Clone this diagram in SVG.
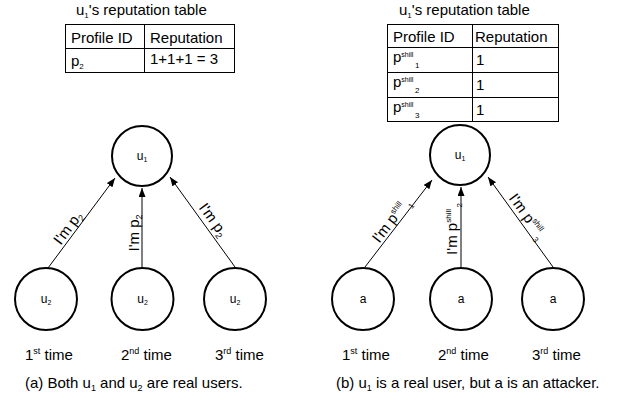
<svg xmlns="http://www.w3.org/2000/svg" width="624" height="401" viewBox="0 0 624 401">
  <defs>
    <style>
      text { font-family: "Liberation Sans", Arial, sans-serif; fill: #000; }
      .t { font-size: 15px; }
      .lbl { font-size: 12px; text-anchor: middle; }
      .mid { text-anchor: middle; }
      .node circle { fill: #fff; stroke: #000; stroke-width: 2; }
      .cell { fill: none; stroke: #000; stroke-width: 1; }
      .edge { fill: none; stroke: #000; stroke-width: 1; marker-end: url(#arrow); }
    </style>
    <marker id="arrow" viewBox="0 0 9 7" refX="9" refY="3.5" markerWidth="9" markerHeight="7" markerUnits="userSpaceOnUse" orient="auto">
      <path d="M0,0 L9,3.5 L0,7 z" fill="#000"/>
    </marker>
  </defs>
  <rect width="624" height="401" fill="#fff"/>

  <!-- ===== Panel (a) ===== -->
  <g id="table-a">
    <text class="t" x="76" y="15">u<tspan font-size="8" dy="3">1</tspan><tspan dy="-3">'s reputation table</tspan></text>
    <rect class="cell" x="65.5" y="24.5" width="169" height="48"/>
    <line class="cell" x1="65.5" y1="48.5" x2="234.5" y2="48.5"/>
    <line class="cell" x1="144.5" y1="24.5" x2="144.5" y2="72.5"/>
    <text class="t" x="71" y="43">Profile ID</text>
    <text class="t" x="150" y="43">Reputation</text>
    <text class="t" x="71" y="66">p<tspan font-size="8" dy="3">2</tspan></text>
    <text class="t" x="150" y="64">1+1+1 = 3</text>
  </g>

  <g id="connectors-a">
    <line class="edge" x1="48" y1="268" x2="115" y2="178"/>
    <line class="edge" x1="142" y1="267" x2="142" y2="188"/>
    <line class="edge" x1="235" y1="267" x2="170" y2="177"/>
    <text class="t mid" transform="translate(74.3,232.6) rotate(-53.3)" x="0" y="-3">I'm p<tspan font-size="9" dy="3">2</tspan></text>
    <text class="t mid" transform="translate(142,233) rotate(-90)" x="0" y="-3">I'm p<tspan font-size="9" dy="3">2</tspan></text>
    <text class="t mid" transform="translate(205.1,225.6) rotate(54.2)" x="0" y="-5">I'm p<tspan font-size="9" dy="3">2</tspan></text>
  </g>

  <g id="u1-a" class="node">
    <circle cx="142" cy="156" r="30"/>
    <text class="lbl" x="142" y="160">u<tspan font-size="7" dy="2">1</tspan></text>
  </g>
  <g id="u2-first" class="node">
    <circle cx="46" cy="299" r="31"/>
    <text class="lbl" x="46" y="303">u<tspan font-size="7" dy="2">2</tspan></text>
  </g>
  <g id="u2-second" class="node">
    <circle cx="142.5" cy="299" r="31"/>
    <text class="lbl" x="142.5" y="303">u<tspan font-size="7" dy="2">2</tspan></text>
  </g>
  <g id="u2-third" class="node">
    <circle cx="235" cy="299" r="31"/>
    <text class="lbl" x="235" y="303">u<tspan font-size="7" dy="2">2</tspan></text>
  </g>

  <g id="times-a">
    <text class="t" x="25" y="360">1<tspan font-size="9" dy="-6">st</tspan><tspan dy="6"> time</tspan></text>
    <text class="t" x="121" y="360">2<tspan font-size="9" dy="-6">nd</tspan><tspan dy="6"> time</tspan></text>
    <text class="t" x="215" y="360">3<tspan font-size="9" dy="-6">rd</tspan><tspan dy="6"> time</tspan></text>
    <text class="t" x="25" y="388">(a) Both u<tspan font-size="9" dy="3">1</tspan><tspan dy="-3"> and u</tspan><tspan font-size="9" dy="3">2</tspan><tspan dy="-3"> are real users.</tspan></text>
  </g>

  <!-- ===== Panel (b) ===== -->
  <g id="table-b">
    <text class="t" x="399" y="15">u<tspan font-size="8" dy="3">1</tspan><tspan dy="-3">'s reputation table</tspan></text>
    <rect class="cell" x="387.5" y="24.5" width="171" height="97"/>
    <line class="cell" x1="387.5" y1="47.5" x2="558.5" y2="47.5"/>
    <line class="cell" x1="387.5" y1="72.5" x2="558.5" y2="72.5"/>
    <line class="cell" x1="387.5" y1="97.5" x2="558.5" y2="97.5"/>
    <line class="cell" x1="472.5" y1="24.5" x2="472.5" y2="121.5"/>
    <text class="t" x="393" y="42">Profile ID</text>
    <text class="t" x="475" y="42">Reputation</text>
    <text class="t" x="393" y="62">p<tspan font-size="7" dy="-5">shill</tspan><tspan font-size="8" dx="1.5" dy="11">1</tspan></text>
    <text class="t" x="393" y="87">p<tspan font-size="7" dy="-5">shill</tspan><tspan font-size="8" dx="1.5" dy="11">2</tspan></text>
    <text class="t" x="393" y="112">p<tspan font-size="7" dy="-5">shill</tspan><tspan font-size="8" dx="1.5" dy="11">3</tspan></text>
    <text class="t" x="476" y="65">1</text>
    <text class="t" x="476" y="90">1</text>
    <text class="t" x="476" y="115">1</text>
  </g>

  <g id="connectors-b">
    <line class="edge" x1="365" y1="267" x2="432" y2="180"/>
    <line class="edge" x1="461" y1="267" x2="461" y2="187"/>
    <line class="edge" x1="553" y1="267" x2="488" y2="177"/>
    <text class="t mid" transform="translate(397.3,225.1) rotate(-52.4)" x="0" y="-3">I'm p<tspan font-size="8" dy="-6">shill</tspan><tspan font-size="8" dx="1.5" dy="11">1</tspan></text>
    <text class="t mid" transform="translate(461,229) rotate(-90)" x="0" y="-4">I'm p<tspan font-size="8" dy="-6">shill</tspan><tspan font-size="8" dx="1.5" dy="11">2</tspan></text>
    <text class="t mid" transform="translate(520.2,221.5) rotate(54.2)" x="0" y="-4">I'm p<tspan font-size="8" dy="-6">shill</tspan><tspan font-size="8" dx="1.5" dy="11">3</tspan></text>
  </g>

  <g id="u1-b" class="node">
    <circle cx="460" cy="155" r="30"/>
    <text class="lbl" x="460" y="159">u<tspan font-size="7" dy="2">1</tspan></text>
  </g>
  <g id="a-first" class="node">
    <circle cx="363" cy="299" r="31"/>
    <text class="lbl" x="363" y="303">a</text>
  </g>
  <g id="a-second" class="node">
    <circle cx="461" cy="299" r="31"/>
    <text class="lbl" x="461" y="303">a</text>
  </g>
  <g id="a-third" class="node">
    <circle cx="553" cy="299" r="31"/>
    <text class="lbl" x="553" y="303">a</text>
  </g>

  <g id="times-b">
    <text class="t" x="342" y="360">1<tspan font-size="9" dy="-6">st</tspan><tspan dy="6"> time</tspan></text>
    <text class="t" x="438" y="360">2<tspan font-size="9" dy="-6">nd</tspan><tspan dy="6"> time</tspan></text>
    <text class="t" x="532" y="360">3<tspan font-size="9" dy="-6">rd</tspan><tspan dy="6"> time</tspan></text>
    <text class="t" x="336" y="388">(b) u<tspan font-size="9" dy="3">1</tspan><tspan dy="-3"> is a real user, but a is an attacker.</tspan></text>
  </g>
</svg>
